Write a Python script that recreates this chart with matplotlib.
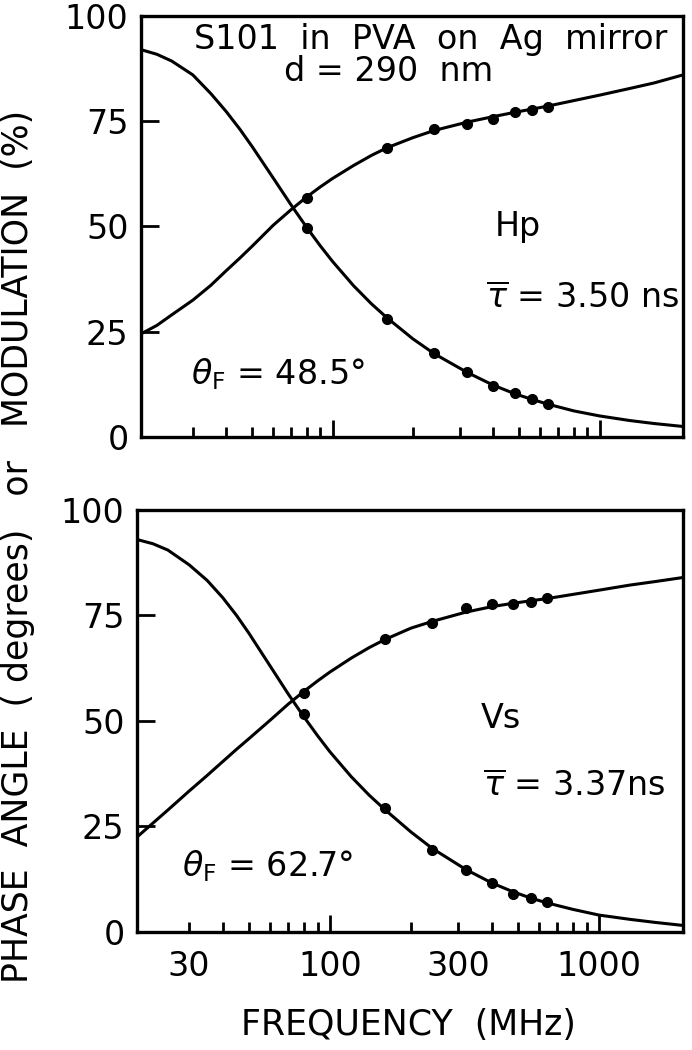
import matplotlib.pyplot as plt

plt.rcParams['font.family'] = ['DejaVu Sans']
plt.rcParams['mathtext.fontset'] = 'dejavusans'

# frequencies (MHz) of the measured points
freq_pts = [80, 160, 240, 320, 400, 480, 560, 640]

# Hp panel, measured points
hp_phase_pts = [56.7, 68.6, 73.1, 74.4, 75.6, 77.2, 77.6, 78.3]
hp_mod_pts = [49.6, 28.0, 20.0, 15.5, 12.2, 10.4, 9.1, 7.9]

# Vs panel, measured points
vs_phase_pts = [56.7, 69.4, 73.2, 76.7, 77.7, 77.7, 78.1, 79.1]
vs_mod_pts = [51.7, 29.3, 19.4, 14.7, 11.7, 8.9, 8.0, 7.2]

freq_fit = [19.2, 22, 25, 30, 35, 40, 45, 50, 60, 70, 80, 90, 100, 120, 140,
            160, 200, 240, 320, 400, 480, 560, 640, 800, 1000, 1300, 1600, 2050]
hp_phase_fit = [24.5, 26.5, 29.0, 32.5, 36.0, 39.5, 42.5, 45.3, 50.3, 54.0,
                57.0, 59.4, 61.4, 64.5, 66.9, 68.7, 71.1, 72.8, 74.8, 76.1,
                77.1, 77.9, 78.6, 79.9, 81.2, 82.8, 84.1, 86.0]
hp_mod_fit = [92.0, 90.9, 89.3, 86.0, 81.6, 77.3, 73.1, 69.0, 61.5, 55.1,
              49.8, 45.4, 41.7, 35.9, 31.6, 28.3, 23.3, 19.8, 15.3, 12.3,
              10.3, 8.9, 7.8, 6.2, 5.0, 3.9, 3.2, 2.5]
vs_phase_fit = [22.5, 25.8, 28.9, 33.4, 37.1, 40.4, 43.3, 45.8, 50.2, 54.0,
                57.0, 59.5, 61.6, 64.9, 67.4, 69.3, 72.0, 73.6, 75.8, 77.1,
                77.9, 78.5, 79.0, 80.0, 81.0, 82.2, 83.0, 84.0]
vs_mod_fit = [93.0, 92.0, 90.5, 87.0, 83.3, 79.2, 75.0, 70.8, 63.0, 56.4,
              51.0, 46.5, 42.7, 36.8, 32.4, 29.0, 23.7, 19.8, 14.8, 11.6,
              9.5, 8.0, 6.9, 5.35, 4.0, 3.0, 2.3, 1.55]

major_x = [100, 1000]
minor_x = [30, 40, 50, 60, 70, 80, 90, 200, 300, 400, 500, 600, 700, 800, 900]
minor_x_labels = ['30', '', '', '', '', '', '', '', '300', '', '', '', '', '', '']
y_ticks = [0, 25, 50, 75, 100]

fig = plt.figure(figsize=(6.92, 10.5), dpi=100)
ax1 = fig.add_axes([0.2038, 0.5838, 0.7832, 0.401])
ax2 = fig.add_axes([0.198, 0.1124, 0.789, 0.4019])

fs = 24
for ax, ph_fit, md_fit, ph_pts, md_pts in [
    (ax1, hp_phase_fit, hp_mod_fit, hp_phase_pts, hp_mod_pts),
    (ax2, vs_phase_fit, vs_mod_fit, vs_phase_pts, vs_mod_pts),
]:
    ax.plot(freq_fit, ph_fit, color='black', lw=2.2)
    ax.plot(freq_fit, md_fit, color='black', lw=2.2)
    ax.plot(freq_pts, ph_pts, 'o', color='black', ms=7)
    ax.plot(freq_pts, md_pts, 'o', color='black', ms=7)
    ax.set_xscale('log')
    ax.set_xlim(19.2, 2050)
    ax.set_ylim(0, 100)
    ax.set_yticks(y_ticks)
    ax.tick_params(axis='y', direction='in', length=13, width=2.0,
                   labelsize=fs, pad=9)
    ax.set_xticks(major_x, ['100', '1000'])
    ax.set_xticks(minor_x, minor_x_labels, minor=True)
    ax.tick_params(axis='x', which='major', direction='in', length=12,
                   width=2.0, labelsize=fs, pad=13)
    ax.tick_params(axis='x', which='minor', direction='in', length=7,
                   width=2.0, labelsize=fs, pad=13)
    for s in ax.spines.values():
        s.set_linewidth(2.4)

ax1.tick_params(axis='x', which='both', labelbottom=False)

# annotations, top panel
ax1.text(0.535, 0.943, 'S101  in  PVA  on  Ag  mirror', transform=ax1.transAxes,
         ha='center', va='center', fontsize=fs)
ax1.text(0.456, 0.868, 'd = 290  nm', transform=ax1.transAxes,
         ha='center', va='center', fontsize=fs)
ax1.text(0.696, 0.501, 'Hp', transform=ax1.transAxes,
         ha='center', va='center', fontsize=fs)
ax1.text(0.815, 0.329, r'$\overline{\tau}$ = 3.50 ns', transform=ax1.transAxes,
         ha='center', va='center', fontsize=fs)
ax1.text(0.253, 0.149, r'$\theta_{\mathrm{F}}$ = 48.5°', transform=ax1.transAxes,
         ha='center', va='center', fontsize=fs)

# annotations, bottom panel
ax2.text(0.667, 0.507, 'Vs', transform=ax2.transAxes,
         ha='center', va='center', fontsize=fs)
ax2.text(0.80, 0.344, r'$\overline{\tau}$ = 3.37ns', transform=ax2.transAxes,
         ha='center', va='center', fontsize=fs)
ax2.text(0.24, 0.156, r'$\theta_{\mathrm{F}}$ = 62.7°', transform=ax2.transAxes,
         ha='center', va='center', fontsize=fs)

fig.text(0.59, 0.024, 'FREQUENCY  (MHz)', ha='center', va='center', fontsize=25)
fig.text(0.026, 0.48, 'PHASE  ANGLE  ( degrees)   or   MODULATION  (%)',
         rotation=90, ha='center', va='center', fontsize=25)

fig.savefig('out.png', dpi=100)
